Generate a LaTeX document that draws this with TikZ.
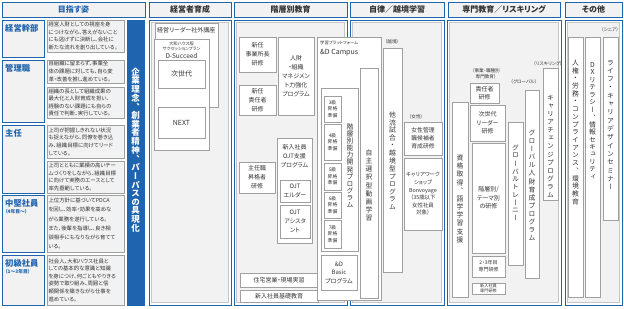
\documentclass[tikz,border=0pt]{standalone}
\usepackage{fontspec}
\setmainfont{Noto Sans CJK JP}[RawFeature={+palt}]
\newfontfamily\cjkv{Noto Sans CJK JP}[RawFeature={+vert}]
\usetikzlibrary{shadows}
\definecolor{bl}{HTML}{1F64AE}
\definecolor{pan}{HTML}{F2F2F2}
\definecolor{gb}{HTML}{A0A0A0}
\definecolor{tx}{HTML}{333333}
\ExplSyntaxOn
\NewDocumentCommand\vt{O{1.15}m}{
  \vbox{\offinterlineskip
    \tl_map_inline:nn {#2} {
      \vbox to #1em {\vss\hbox to 1em{\hss ##1\hss}\vss}
    }
  }
}
\ExplSyntaxOff
\newcommand\rbox[7]{\node[#1,minimum width={(#5)-(#3)},minimum height={(#6)-(#4)}] (#2) at ({((#3)+(#5))/2},{((#4)+(#6))/2}) {#7};}
\tikzset{
 shd/.style={drop shadow={shadow xshift=0.6pt,shadow yshift=-0.6pt,fill=gray!55,opacity=1}},
 hdr/.style={draw=bl,line width=0.9pt,fill=pan,font=\fontsize{8}{9}\selectfont\bfseries,text=tx,inner sep=0},
 body/.style={draw=bl,line width=0.9pt,fill=white,inner sep=0},
 panel/.style={draw=gray!45,line width=0.4pt,fill=pan,inner sep=0},
 lbl/.style={draw=bl,line width=0.9pt,fill=pan,inner sep=0},
 lt/.style={text=bl,font=\fontsize{8.3}{9}\selectfont\bfseries,inner sep=0,align=left,anchor=north west},
 desc/.style={draw=gb,fill=pan,shd,text=tx,align=left,text width=74pt,inner sep=1.5pt,font=\fontsize{5.4}{7.6}\selectfont},
 ib/.style={draw=gb,fill=white,shd,text=tx,align=center,inner sep=0.5pt,font=\fontsize{6}{9}\selectfont},
 tt/.style={text=tx,inner sep=0,align=center,font=\fontsize{6}{9}\selectfont},
 vtx/.style={text=tx,inner sep=0,font=\fontsize{6.8}{8}\cjkv},
 sm/.style={text=tx,inner sep=0,font=\fontsize{4.6}{5.6}\selectfont,align=center},
}
\begin{document}
\begin{tikzpicture}[x=1pt,y=-1pt]
\useasboundingbox[fill=white] (0,0) rectangle (624,308);
% ---------- left column ----------
\rbox{hdr,text=bl}{h0}{2}{2}{145}{17}{目指す姿}
\rbox{lbl}{l1}{2}{20}{44}{57}{}
\rbox{lbl}{l2}{2}{60}{44}{122}{}
\rbox{lbl}{l3}{2}{125}{44}{193}{}
\rbox{lbl}{l4}{2}{195}{44}{252}{}
\rbox{lbl}{l5}{2}{255}{44}{305}{}
\node[lt] (l1t) at (5,24) {経営幹部};
\node[lt] (l2t) at (5,64) {管理職};
\node[lt] (l3t) at (5,129) {主任};
\node[lt] (l4t) at (5,199) {中堅社員\\[-2pt]{\fontsize{4.8}{6}\selectfont（4年目～）}};
\node[lt] (l5t) at (5,259) {初級社員\\[-2pt]{\fontsize{4.8}{6}\selectfont（1～3年目）}};
\rbox{desc}{d1}{47}{20}{124}{52}{経営人財としての視座を身\\につけながら、答えがないこと\\にも逃げずに決断し、会社に\\新たな流れを創り出している。}
\rbox{desc}{d2}{47}{60}{124}{83}{自組織に留まらず、事業全\\体の課題に対しても、自ら変\\革・改善を推し進めている。}
\rbox{desc}{d3}{47}{87}{124}{118}{組織の長として組織成果の\\最大化と人財育成を担い、\\経験のない課題にも自らの\\責任で判断、実行している。}
\rbox{desc}{d4}{47}{125}{124}{158}{上司が把握しきれない状況\\も捉えながら、同僚を巻き込\\み、組織目標に向けてリード\\している。}
\rbox{desc}{d5}{47}{161}{124}{193}{上司とともに業績の高いチー\\ムづくりをしながら、組織目標\\に向けて実務のエースとして\\率先垂範している。}
\rbox{desc,font=\fontsize{5.4}{9.2}\selectfont}{d6}{47}{195}{124}{252}{上位方針に基づいてPDCA\\を回し、効率・効果を高めな\\がら業務を遂行している。\\また、後輩を指導し、良き相\\談相手にもなりながら育てて\\いる。}
\rbox{desc}{d7}{47}{255}{124}{305}{社会人、大和ハウス社員と\\しての基本的な意識と知識\\を身につけ、何ごともやりきる\\姿勢で取り組み、周囲と信\\頼関係を築きながら仕事を\\進めている。}
\rbox{draw=bl,fill=bl,inner sep=0}{bar}{127}{20}{144}{305}{}
\node[text=white,inner sep=0,font=\fontsize{8.5}{9}\cjkv\bfseries] (bart) at (135.5,150) {\vt[1.02]{企業理念、創業者精神、パーパスの具現化}};
% ---------- headers & bodies ----------
\rbox{hdr}{h1}{149}{2}{231}{17}{経営者育成}
\rbox{hdr}{h2}{234}{2}{347}{17}{階層別教育}
\rbox{hdr}{h3}{350}{2}{444}{17}{自律／越境学習}
\rbox{hdr}{h4}{448}{2}{560}{17}{専門教育／リスキリング}
\rbox{hdr}{h5}{565}{2}{622}{17}{その他}
\rbox{body}{b1}{149}{20}{231}{305}{}
\rbox{body}{b2}{234}{20}{347}{305}{}
\rbox{body}{b3}{350}{20}{444}{305}{}
\rbox{body}{b4}{447}{20}{561}{305}{}
\rbox{body}{b5}{565}{20}{622}{305}{}
\rbox{panel}{p1}{151.5}{22.5}{228.5}{302.5}{}
\rbox{panel}{p2}{236.5}{22.5}{344.5}{302.5}{}
\rbox{panel}{p3}{352.5}{22.5}{441.5}{302.5}{}
\rbox{panel}{p4}{449.5}{22.5}{558.5}{302.5}{}
\rbox{panel}{p5}{567.5}{22.5}{619.5}{302.5}{}
% ---------- 経営者育成 ----------
\rbox{ib}{c1}{155}{23}{218}{107}{}
\node[tt,anchor=west] (c1t) at (157,30) {経営リーダー社外講座};
\rbox{ib}{c2}{154}{39}{209}{150}{}
\node[sm,font=\fontsize{4.3}{5.2}\selectfont] (c2t) at (181.5,46) {大和ハウス版\\サクセッションプラン};
\node[tt,font=\fontsize{6.5}{8}\selectfont] (c2n) at (181.5,55.5) {D-Succeed};
\rbox{ib,font=\fontsize{7}{9}\selectfont}{c3}{158}{60}{205}{88}{次世代}
\rbox{ib,font=\fontsize{7}{9}\selectfont}{c4}{158}{107}{205}{138}{NEXT}
% ---------- 階層別教育 ----------
\rbox{ib}{k1}{239}{37}{276}{72}{新任\\事業所長\\研修}
\rbox{ib}{k2}{278}{37}{314}{115}{人財\\・組織\\マネジメン\\ト力強化\\プログラム}
\rbox{ib}{k3}{239}{85}{276}{115}{新任\\責任者\\研修}
\rbox{ib}{k4}{277}{138}{312}{243}{}
\node[tt] (k4t) at (294.5,156) {新入社員\\OJT支援\\プログラム};
\rbox{ib}{k5}{280}{180}{310}{202}{OJT\\エルダー}
\rbox{ib}{k6}{280}{205}{310}{238}{OJT\\アシスタ\\ント}
\rbox{ib}{k7}{239}{162}{275}{193}{主任職\\昇格者\\研修}
\rbox{ib}{k8}{240}{273}{318}{287}{住宅営業・現場実習}
\rbox{ib}{k9}{240}{290}{318}{302}{新入社員基礎教育}
% ---------- &D Campus ----------
\rbox{ib}{a0}{317}{37}{381}{300}{}
\node[sm,anchor=west,font=\fontsize{4.3}{5}\selectfont] (a0s) at (320,43) {学習プラットフォーム};
\node[tt,anchor=west,font=\fontsize{7}{8}\selectfont] (a0t) at (320,53) {\&D Campus};
\rbox{ib}{a1}{360}{68}{378}{298}{}
\node[vtx] (a1t) at (369,185.5) {\vt[1.19]{自主選択型動画学習}};
\rbox{ib}{a2}{321}{88}{358}{251}{}
\node[vtx] (a2t) at (350,166) {\vt[1.05]{階層別能力開発プログラム}};
\rbox{ib,font=\fontsize{4.8}{6.6}\selectfont}{g3}{324}{96}{341}{122}{3級\\昇格\\準備}
\rbox{ib,font=\fontsize{4.8}{6.6}\selectfont}{g4}{324}{124}{341}{160}{4級\\昇格\\準備}
\rbox{ib,font=\fontsize{4.8}{6.6}\selectfont}{g5}{324}{163}{341}{190}{5級\\昇格\\準備}
\rbox{ib,font=\fontsize{4.8}{6.6}\selectfont}{g6}{324}{192}{341}{218}{6級\\昇格\\準備}
\rbox{ib,font=\fontsize{4.8}{6.6}\selectfont}{g7}{324}{220}{341}{248}{7級\\昇格\\準備}
\rbox{ib,font=\fontsize{6}{8.5}\selectfont}{a3}{321}{255}{357}{290}{\&D\\Basic\\プログラム}
% ---------- 自律／越境 ----------
\node[sm] (ekl) at (392,42) {（越境）};
\rbox{ib}{e1}{383}{48}{402}{272}{}
\node[vtx] (e1t) at (392.5,161) {\vt[1.13]{他流試合・越境型プログラム}};
\node[sm] (jol) at (416,117) {（女性）};
\rbox{ib,font=\fontsize{5.8}{8}\selectfont}{e2}{404}{122}{442}{155}{女性管理\\職候補者\\育成研修}
\rbox{ib,font=\fontsize{5.4}{7.6}\selectfont}{e3}{404}{158}{442}{230}{キャリアワーク\\ショップ\\Bonvoyage\\（35歳以下\\女性社員\\対象）}
% ---------- 専門教育 ----------
\node[sm] (snl) at (486,74) {（事業・職種別\\専門教育）};
\node[sm] (gll) at (524,82) {（グローバル）};
\node[sm] (rsl) at (548,64) {（リスキリング）};
\rbox{ib}{s1}{452}{102}{468}{297}{}
\node[vtx] (s1t) at (460,199) {\vt[1.2]{資格取得、語学学習支援}};
\rbox{ib,font=\fontsize{6}{8.5}\selectfont}{s2}{470}{83}{499}{103}{責任者\\研修}
\rbox{ib,font=\fontsize{6}{8.5}\selectfont}{s3}{470}{105}{505}{141}{次世代\\リーダー\\研修}
\rbox{ib,font=\fontsize{6}{8.5}\selectfont}{s4}{472}{143}{505}{253}{階層別/\\テーマ別\\の研修}
\rbox{ib,font=\fontsize{5}{7}\selectfont}{s5}{472}{256}{505}{277}{2・3年目\\専門研修}
\rbox{ib,font=\fontsize{4.2}{5}\selectfont}{s6}{472}{283}{505}{294}{新入社員\\専門研修}
\rbox{ib}{s7}{508}{122}{523}{265}{}
\node[vtx] (s7t) at (515.5,183) {\vt[1.15]{グローバルトレーニー}};
\rbox{ib}{s8}{525}{90}{539}{278}{}
\node[vtx] (s8t) at (532,185.5) {\vt[1.19]{グローバル人財育成プログラム}};
\rbox{ib}{s9}{543}{68}{558}{200}{}
\node[vtx] (s9t) at (550.5,146.5) {\vt[1.19]{キャリアチェンジプログラム}};
% ---------- その他 ----------
\node[sm] (snr) at (610,30) {（シニア）};
\rbox{ib}{o1}{568}{37}{583}{297}{}
\node[vtx] (o1t) at (575.5,132.5) {\vt[1.13]{人権・労務・コンプライアンス、環境教育}};
\rbox{ib}{o2}{585}{37}{600}{297}{}
\node[vtx] (o2t) at (592.5,121) {\vt[1.1]{DXリテラシー、情報セキュリティ}};
\rbox{ib}{o3}{603}{37}{618}{220}{}
\node[vtx] (o3t) at (610.5,125) {\vt[1.22]{ライフ・キャリアデザインセミナー}};
\end{tikzpicture}
\end{document}
